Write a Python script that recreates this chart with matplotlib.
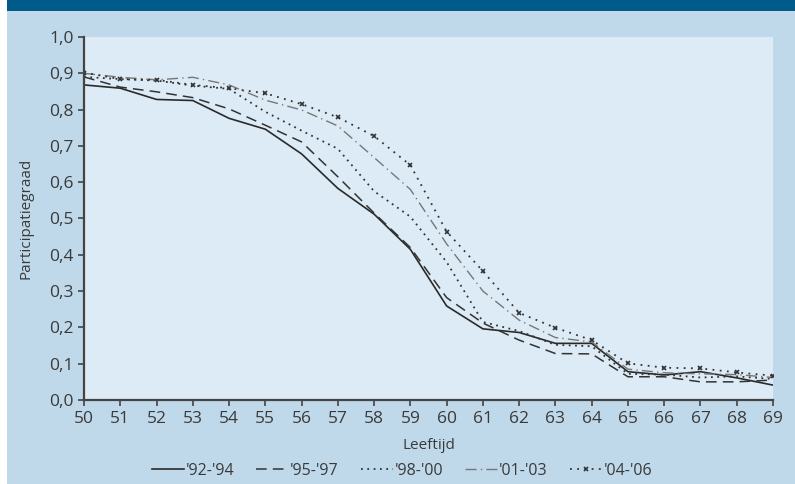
import matplotlib
matplotlib.use("Agg")
import matplotlib.pyplot as plt
from matplotlib.patches import Rectangle
from matplotlib.ticker import FuncFormatter, MultipleLocator

ages = list(range(50, 70))
labels = ["'92-'94", "'95-'97", "'98-'00", "'01-'03", "'04-'06"]

s92 = [0.868, 0.859, 0.828, 0.825, 0.776, 0.746, 0.678, 0.583, 0.512, 0.415,
       0.259, 0.196, 0.186, 0.156, 0.156, 0.078, 0.069, 0.078, 0.061, 0.041]
s95 = [0.890, 0.862, 0.849, 0.833, 0.802, 0.757, 0.711, 0.615, 0.515, 0.420,
       0.282, 0.212, 0.165, 0.128, 0.127, 0.064, 0.064, 0.050, 0.050, 0.055]
s98 = [0.890, 0.884, 0.880, 0.866, 0.857, 0.794, 0.742, 0.692, 0.575, 0.505,
       0.380, 0.215, 0.190, 0.152, 0.148, 0.072, 0.070, 0.062, 0.065, 0.058]
s01 = [0.900, 0.889, 0.882, 0.889, 0.868, 0.826, 0.799, 0.755, 0.668, 0.580,
       0.430, 0.300, 0.220, 0.172, 0.160, 0.085, 0.075, 0.072, 0.070, 0.062]
s04 = [0.902, 0.884, 0.882, 0.868, 0.859, 0.845, 0.815, 0.779, 0.727, 0.647,
       0.464, 0.355, 0.240, 0.199, 0.165, 0.101, 0.089, 0.087, 0.076, 0.067]

plt.rcParams['font.family'] = ['Open Sans', 'DejaVu Sans']
txt = '#3a3a3a'

fig = plt.figure(figsize=(7.95, 4.84), dpi=100)
fig.patch.set_facecolor('white')
fig.patches.append(Rectangle((7/795, 0), 1 - 7/795, 1, transform=fig.transFigure,
                             facecolor='#bfd9ea', edgecolor='none', zorder=-10))
fig.patches.append(Rectangle((7/795, 1 - 11/484), 1 - 7/795, 11/484, transform=fig.transFigure,
                             facecolor='#005a8a', edgecolor='none', zorder=-9))

ax = fig.add_axes([84/795, 84/484, 689/795, 363/484])
ax.set_zorder(1)
ax.set_facecolor('#dcebf5')

ax.plot(ages, s92, color='#2a2a2a', lw=1.2, ls='-', label=labels[0])
ax.plot(ages, s95, color='#333333', lw=1.1, ls=(0, (7, 4)), label=labels[1])
ax.plot(ages, s98, color='#333333', lw=1.3, ls=(0, (1, 2.5)), label=labels[2])
ax.plot(ages, s01, color='#777777', lw=1.0, ls=(0, (8, 3, 1, 3)), label=labels[3])
ax.plot(ages, s04, color='#333333', lw=1.3, ls=(0, (1, 3)), marker='x', ms=3.5,
        mew=1.2, label=labels[4])

ax.set_xlim(50, 69)
ax.set_ylim(0, 1.0)
ax.xaxis.set_major_locator(MultipleLocator(1))
ax.yaxis.set_major_locator(MultipleLocator(0.1))
ax.yaxis.set_major_formatter(FuncFormatter(lambda v, p: f"{v:.1f}".replace('.', ',')))

for s in ['top', 'right']:
    ax.spines[s].set_visible(False)
for s in ['left', 'bottom']:
    ax.spines[s].set_color('#444444')
    ax.spines[s].set_linewidth(1.6)

ax.tick_params(axis='both', direction='out', colors='#444444', labelcolor=txt,
               labelsize=12.5, width=1.2)
ax.tick_params(axis='y', length=4.5, pad=3)
ax.tick_params(axis='x', length=4, pad=4)

ax.set_ylabel('Participatiegraad', fontsize=11, color=txt)
ax.yaxis.set_label_coords(-0.074, 0.5)
ax.set_xlabel('Leeftijd', fontsize=11, color=txt)
ax.xaxis.set_label_coords(0.5, -0.105)

fig.legend(loc='center', bbox_to_anchor=(402/795, 13/484), ncol=5, frameon=False,
           fontsize=11.5, handlelength=2.0, handletextpad=0.1, columnspacing=1.4,
           labelcolor=txt)

fig.savefig('out.png', dpi=100, facecolor=fig.get_facecolor())
